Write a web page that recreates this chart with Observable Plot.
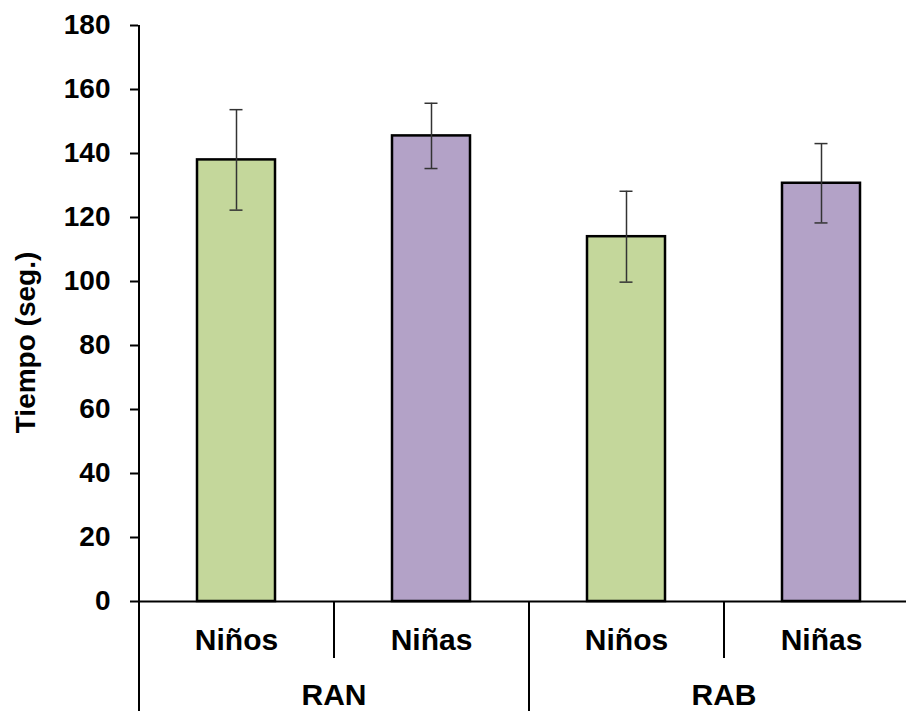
<!DOCTYPE html>
<html>
<head>
<meta charset="utf-8">
<script src="https://cdn.jsdelivr.net/npm/d3@7"></script>
<script src="https://cdn.jsdelivr.net/npm/@observablehq/plot@0.6"></script>
<style>
  html, body { margin: 0; padding: 0; background: #fff; overflow: hidden; }
  svg { display: block; }
</style>
</head>
<body>
<div id="chart"></div>
<script>
const groups = ["RAN", "RAB"];
const sexes = ["Niños", "Niñas"];
const values = [138, 145.5, 114, 130.7];
const errors = [15.7, 10.2, 14.2, 12.4];
const yTicks = [0, 20, 40, 60, 80, 100, 120, 140, 160, 180];
const colors = {"Niños": "#c4d79b", "Niñas": "#b3a2c7"};

const data = [];
groups.forEach((g, gi) => sexes.forEach((s, si) => {
  const i = gi * sexes.length + si;
  data.push({key: g + "|" + s, group: g, sex: s, value: values[i], err: errors[i], first: si === 0});
}));
const keys = data.map(d => d.key);

const W = 906, H = 711;
const mL = 138, mT = 25, mB = 110;
const xRange = [mL, mL + 780];
const step = (xRange[1] - xRange[0]) / keys.length;
const font = "'Liberation Sans', Arial, sans-serif";

const plot = Plot.plot({
  width: W,
  height: H,
  marginLeft: mL,
  marginTop: mT,
  marginBottom: mB,
  marginRight: 0,
  style: {fontFamily: font, background: "#fff", overflow: "hidden"},
  x: {domain: keys, range: xRange, paddingInner: 0.6, paddingOuter: 0.3, axis: null},
  y: {domain: [0, 180], axis: null},
  marks: [
    Plot.barY(data, {x: "key", y: "value", fill: d => colors[d.sex], stroke: "#000", strokeWidth: 2.5}),
    Plot.ruleX(data, {x: "key", y1: d => d.value - d.err, y2: d => d.value + d.err, stroke: "#333", strokeWidth: 1.5}),
    Plot.tickY(data, {x: "key", y: d => d.value + d.err, stroke: "#333", strokeWidth: 1.5, insetLeft: 32.5, insetRight: 32.5}),
    Plot.tickY(data, {x: "key", y: d => d.value - d.err, stroke: "#333", strokeWidth: 1.5, insetLeft: 32.5, insetRight: 32.5}),
    // baseline
    Plot.ruleY([0], {stroke: "#000", strokeWidth: 2}),
    // y axis line
    Plot.ruleX([keys[0]], {dx: -step / 2, stroke: "#000", strokeWidth: 2}),
    // y axis ticks & labels
    Plot.axisY({ticks: yTicks, tickSize: 8, tickPadding: 20, tickFormat: d3.format("d"), fontSize: 28, fontWeight: "bold", label: null, stroke: "#000", strokeWidth: 2, color: "#000"}),
    // short separators between sexes
    Plot.ruleX(data.filter(d => !d.first), {x: "key", dx: -step / 2, y1: 0, y2: 0, insetBottom: -57, stroke: "#000", strokeWidth: 2}),
    // long separators between groups
    Plot.ruleX(data.filter(d => d.first), {x: "key", dx: -step / 2, y1: 0, y2: 0, insetBottom: -mB, stroke: "#000", strokeWidth: 2}),
    // sex labels
    Plot.text(data, {x: "key", y: 0, text: "sex", dy: 39, fontSize: 30, fontWeight: "bold", fill: "#000", lineAnchor: "middle"}),
    // group labels
    Plot.text(data.filter(d => d.first), {x: "key", y: 0, text: "group", dx: step / 2, dy: 94, fontSize: 30, fontWeight: "bold", fill: "#000", lineAnchor: "middle"}),
    // y title
    Plot.text(["Tiempo (seg.)"], {frameAnchor: "left", rotate: -90, dx: -112, dy: 29, fontSize: 28, fontWeight: "bold", fill: "#000", textAnchor: "middle", lineAnchor: "middle"})
  ]
});
document.getElementById("chart").appendChild(plot);
</script>
</body>
</html>
